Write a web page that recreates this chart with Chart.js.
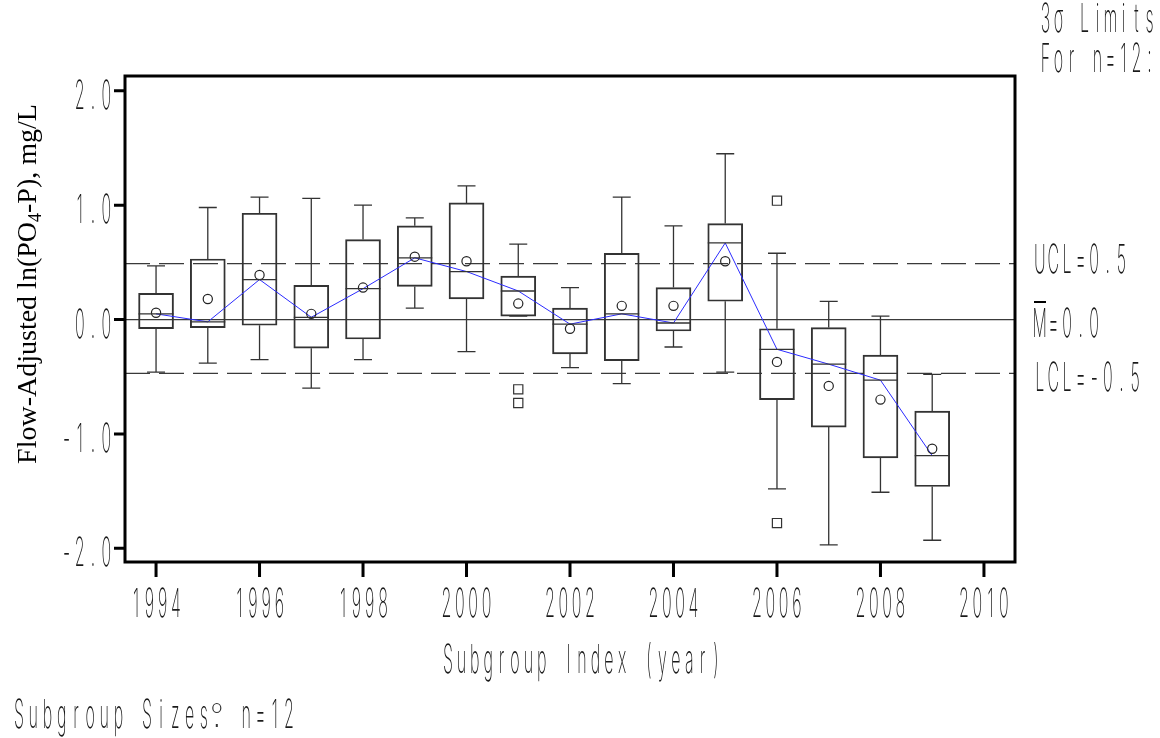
<!DOCTYPE html>
<html>
<head>
<meta charset="utf-8">
<script src="https://cdn.jsdelivr.net/npm/chart.js@4.4.1/dist/chart.umd.min.js"></script>
<style>
  html, body { margin: 0; padding: 0; background: #fff; }
  #wrap { width: 1160px; height: 738px; }
</style>
</head>
<body>
<div id="wrap"><canvas id="chart" width="1160" height="738"></canvas></div>
<script>
/* box plot of yearly subgroups */
const years     = [1994, 1995, 1996, 1997, 1998, 1999, 2000, 2001, 2002, 2003, 2004, 2005, 2006, 2007, 2008, 2009];
const whiskerHi = [0.47, 0.98, 1.07, 1.06, 1.00, 0.89, 1.17, 0.66, 0.28, 1.07, 0.82, 1.45, 0.58, 0.16, 0.03, -0.48];
const q3        = [0.23, 0.53, 0.93, 0.30, 0.70, 0.82, 1.02, 0.38, 0.10, 0.58, 0.28, 0.84, -0.08, -0.07, -0.31, -0.80];
const medians   = [0.05, -0.02, 0.35, 0.02, 0.27, 0.54, 0.42, 0.25, -0.04, 0.05, -0.03, 0.67, -0.26, -0.39, -0.53, -1.19];
const q1        = [-0.08, -0.07, -0.05, -0.25, -0.17, 0.29, 0.18, 0.03, -0.30, -0.36, -0.10, 0.16, -0.70, -0.94, -1.21, -1.46];
const whiskerLo = [-0.46, -0.38, -0.35, -0.60, -0.35, 0.10, -0.28, 0.03, -0.42, -0.56, -0.24, -0.46, -1.48, -1.97, -1.51, -1.93];
const means     = [0.06, 0.18, 0.39, 0.05, 0.28, 0.55, 0.51, 0.14, -0.08, 0.12, 0.12, 0.51, -0.37, -0.58, -0.70, -1.13];

const outlierYears  = [2001, 2001, 2006, 2006];
const outlierValues = [-0.61, -0.73, 1.04, -1.78];

const ucl = 0.49;
const centerLine = 0.0;
const lcl = -0.47;

const xTicks = [1994, 1996, 1998, 2000, 2002, 2004, 2006, 2008, 2010];
const yTicks = [2, 1, 0, -1, -2];
const xMin = 1993.4, xMax = 2010.6;
const yMin = -2.12, yMax = 2.13;

const monoFont = '200 40px Inter, Lato, Roboto, "DejaVu Sans", sans-serif';

function drawMono(ctx, text, x, y, align, pitch) {
  pitch = pitch || 13.3;
  const chars = [...text];
  const total = chars.length * pitch;
  const left = align === 'right' ? x - total : align === 'center' ? x - total / 2 : x;
  ctx.save();
  ctx.font = monoFont;
  ctx.textAlign = 'center';
  ctx.textBaseline = 'alphabetic';
  ctx.fillStyle = '#1a1a1a';
  chars.forEach((ch, i) => {
    ctx.save();
    ctx.translate(left + pitch * (i + 0.5), y);
    ctx.scale(0.4, 1);
    ctx.fillText(ch, 0, 0);
    ctx.restore();
  });
  ctx.restore();
  return left;
}

const boxPlugin = {
  id: 'boxParts',
  afterDatasetsDraw(chart) {
    const { ctx, scales: { x, y } } = chart;
    ctx.save();
    ctx.strokeStyle = '#333';
    ctx.lineWidth = 1.3;
    years.forEach((yr, i) => {
      const cx = x.getPixelForValue(yr);
      const half = 17.5, cap = 9;
      ctx.beginPath();
      // whiskers
      ctx.moveTo(cx, y.getPixelForValue(q3[i]));
      ctx.lineTo(cx, y.getPixelForValue(whiskerHi[i]));
      ctx.moveTo(cx, y.getPixelForValue(q1[i]));
      ctx.lineTo(cx, y.getPixelForValue(whiskerLo[i]));
      // caps
      ctx.moveTo(cx - cap, y.getPixelForValue(whiskerHi[i]));
      ctx.lineTo(cx + cap, y.getPixelForValue(whiskerHi[i]));
      ctx.moveTo(cx - cap, y.getPixelForValue(whiskerLo[i]));
      ctx.lineTo(cx + cap, y.getPixelForValue(whiskerLo[i]));
      // median
      ctx.moveTo(cx - half, y.getPixelForValue(medians[i]));
      ctx.lineTo(cx + half, y.getPixelForValue(medians[i]));
      ctx.stroke();
    });
    ctx.restore();
  },
  afterDraw(chart) {
    const { ctx, chartArea: a, scales: { x, y } } = chart;
    ctx.save();
    // frame
    ctx.strokeStyle = '#000';
    ctx.lineWidth = 3;
    ctx.strokeRect(a.left, a.top, a.right - a.left, a.bottom - a.top);
    // ticks
    ctx.beginPath();
    yTicks.forEach(v => {
      const py = y.getPixelForValue(v);
      ctx.moveTo(a.left - 11, py);
      ctx.lineTo(a.left, py);
    });
    xTicks.forEach(v => {
      const px = x.getPixelForValue(v);
      ctx.moveTo(px, a.bottom);
      ctx.lineTo(px, a.bottom + 15);
    });
    ctx.stroke();
    ctx.restore();

    // tick labels
    yTicks.forEach(v => drawMono(ctx, v.toFixed(1), a.left - 12, y.getPixelForValue(v) + 18, 'right'));
    xTicks.forEach(v => drawMono(ctx, String(v), x.getPixelForValue(v), 617, 'center'));

    // axis titles
    drawMono(ctx, 'Subgroup Index (year)', 582, 673, 'center', 13.4);

    ctx.save();
    ctx.translate(36, 284);
    ctx.rotate(-Math.PI / 2);
    ctx.fillStyle = '#000';
    ctx.textBaseline = 'alphabetic';
    const big = '28px "Liberation Serif", "Times New Roman", serif';
    const small = '18px "Liberation Serif", "Times New Roman", serif';
    const parts = [['Flow-Adjusted ln(PO', big, 0], ['4', small, 5], ['-P), mg/L', big, 0]];
    let total = 0;
    parts.forEach(p => { ctx.font = p[1]; total += ctx.measureText(p[0]).width; });
    let tx = -total / 2;
    parts.forEach(p => {
      ctx.font = p[1];
      ctx.fillText(p[0], tx, p[2]);
      tx += ctx.measureText(p[0]).width;
    });
    ctx.restore();

    // control limit labels
    drawMono(ctx, '3\u03c3 Limits', 1039, 32, 'left', 13.0);
    drawMono(ctx, 'For n=12:', 1039, 72, 'left', 13.0);
    drawMono(ctx, 'UCL=0.5', 1033, 273, 'left', 13.6);
    const mLeft = drawMono(ctx, 'M=0.0', 1033, 337, 'left', 13.6);
    drawMono(ctx, 'LCL=-0.5', 1033, 391, 'left', 13.6);
    ctx.save();
    ctx.strokeStyle = '#000';
    ctx.lineWidth = 2;
    ctx.beginPath();
    ctx.moveTo(mLeft + 1, 302);
    ctx.lineTo(mLeft + 13, 302);
    ctx.stroke();
    ctx.restore();

    // subgroup size note
    drawMono(ctx, 'Subgroup Sizes', 12, 728, 'left', 14.2);
    ctx.save();
    ctx.strokeStyle = '#333';
    ctx.lineWidth = 1.2;
    ctx.beginPath();
    ctx.ellipse(12 + 14 * 14.2 + 6, 708, 4, 4.5, 0, 0, Math.PI * 2);
    ctx.stroke();
    ctx.fillStyle = '#333';
    ctx.fillRect(12 + 14 * 14.2 + 5, 724, 2, 3);
    ctx.restore();
    drawMono(ctx, 'n=12', 12 + 16 * 14.2, 728, 'left', 14.2);
  }
};

const limitLine = (v, dash) => ({
  type: 'line',
  data: [{ x: xMin, y: v }, { x: xMax, y: v }],
  borderColor: '#3a3a3a',
  borderWidth: 1.3,
  borderDash: dash,
  pointRadius: 0,
  order: 5
});

new Chart(document.getElementById('chart'), {
  type: 'bar',
  data: {
    datasets: [
      {
        type: 'bar',
        data: years.map((yr, i) => ({ x: yr, y: [q1[i], q3[i]] })),
        backgroundColor: 'rgba(0,0,0,0)',
        borderColor: '#333',
        borderWidth: 1.3,
        borderSkipped: false,
        barThickness: 35,
        order: 4
      },
      limitLine(ucl, [25, 9]),
      limitLine(centerLine, []),
      limitLine(lcl, [25, 9]),
      {
        type: 'line',
        data: years.map((yr, i) => ({ x: yr, y: medians[i] })),
        borderColor: '#2b2bff',
        borderWidth: 1,
        pointRadius: 0,
        order: 2
      },
      {
        type: 'line',
        showLine: false,
        data: years.map((yr, i) => ({ x: yr, y: means[i] })),
        pointStyle: 'circle',
        pointRadius: 4.6,
        pointBorderColor: '#222',
        pointBackgroundColor: 'rgba(0,0,0,0)',
        pointBorderWidth: 1.2,
        order: 1
      },
      {
        type: 'line',
        showLine: false,
        data: outlierYears.map((yr, i) => ({ x: yr, y: outlierValues[i] })),
        pointStyle: 'rect',
        pointRadius: 6.5,
        pointBorderColor: '#333',
        pointBackgroundColor: 'rgba(0,0,0,0)',
        pointBorderWidth: 1.2,
        order: 1
      }
    ]
  },
  options: {
    responsive: false,
    animation: false,
    devicePixelRatio: 1,
    layout: { padding: { left: 125, top: 76, right: 145, bottom: 176 } },
    plugins: { legend: { display: false }, tooltip: { enabled: false } },
    scales: {
      x: { type: 'linear', min: xMin, max: xMax, offset: false, display: false },
      y: { type: 'linear', min: yMin, max: yMax, display: false }
    }
  },
  plugins: [boxPlugin]
});
</script>
</body>
</html>
